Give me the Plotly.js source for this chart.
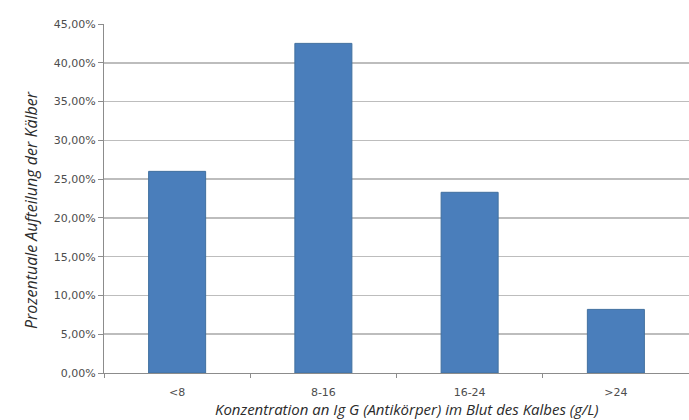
<!DOCTYPE html>
<html>
<head>
<meta charset="utf-8">
<script src="https://cdn.plot.ly/plotly-3.0.1.min.js"></script>
<style>
  html, body { margin: 0; padding: 0; background: #ffffff; }
  #chart { width: 689px; height: 420px; }
</style>
</head>
<body>
<div id="chart"></div>
<script>
// IgG concentration classes (g/L) and share of calves per class (%)
const categories = ['<8', '8-16', '16-24', '>24'];
const shares = [26.0, 42.5, 23.3, 8.2];
const yTicks = [0, 5, 10, 15, 20, 25, 30, 35, 40, 45];

// German-style percent labels, e.g. "45,00%"
const yTickText = yTicks.map(v => v.toFixed(2).replace('.', ',') + '%');

const tickFont = { family: '"DejaVu Sans", Verdana, sans-serif', size: 11, color: '#4d4d4d' };
const titleFont = { family: '"Open Sans", sans-serif', size: 16, color: '#2b2b2b', style: 'italic' };
const xTitleFont = Object.assign({}, titleFont, { size: 15 });

const trace = {
  type: 'bar',
  x: categories,
  y: shares,
  width: 0.39,
  marker: { color: '#4a7ebb', line: { color: '#41709f', width: 1 } },
  hoverinfo: 'x+y'
};

const layout = {
  width: 689,
  height: 420,
  margin: { l: 104, r: 0, t: 24, b: 47 },
  paper_bgcolor: '#ffffff',
  plot_bgcolor: '#ffffff',
  showlegend: false,
  font: tickFont,
  xaxis: {
    type: 'category',
    range: [-0.5, 3.5],
    showline: true,
    linecolor: '#8c8c8c',
    linewidth: 1,
    ticks: 'outside',
    tickson: 'boundaries',
    ticklen: 4,
    tickcolor: '#8c8c8c',
    ticklabelstandoff: 9,
    showgrid: false,
    tickfont: tickFont,
    fixedrange: true
  },
  yaxis: {
    range: [0, 45],
    tickmode: 'array',
    tickvals: yTicks,
    ticktext: yTickText,
    showline: true,
    linecolor: '#8c8c8c',
    linewidth: 1,
    ticks: 'outside',
    ticklen: 5,
    tickcolor: '#8c8c8c',
    showgrid: true,
    gridcolor: '#bdbdbd',
    gridwidth: 1.5,
    zeroline: false,
    tickfont: tickFont,
    fixedrange: true
  },
  annotations: [
    {
      text: 'Prozentuale Aufteilung der Kälber',
      xref: 'paper', yref: 'paper',
      x: 0, y: 0.467,
      xshift: -86,
      textangle: -90,
      showarrow: false,
      font: titleFont
    },
    {
      text: 'Konzentration an Ig G (Antikörper) im Blut des Kalbes (g/L)',
      xref: 'paper', yref: 'paper',
      x: (407 - 104) / 585, y: 0,
      yanchor: 'top',
      yshift: -25,
      borderpad: 0,
      showarrow: false,
      font: xTitleFont
    }
  ]
};

Plotly.newPlot('chart', [trace], layout, { displayModeBar: false, staticPlot: true });
</script>
</body>
</html>
